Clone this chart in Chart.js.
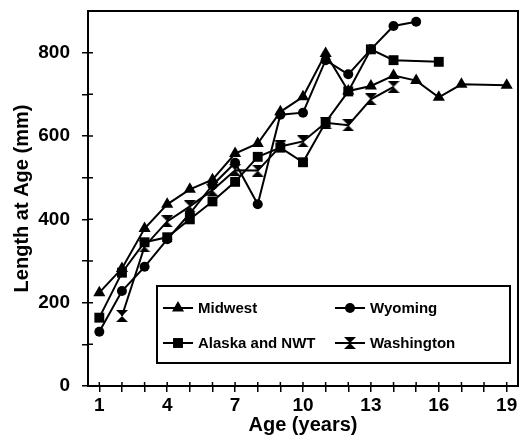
<!DOCTYPE html>
<html>
<head>
<meta charset="utf-8">
<script src="https://cdn.jsdelivr.net/npm/chart.js@4.4.0/dist/chart.umd.min.js"></script>
<style>
  html, body { margin: 0; padding: 0; background: #fff; }
  #wrap { width: 521px; height: 442px; }
</style>
</head>
<body>
<div id="wrap"><canvas id="growthChart" width="521" height="442"></canvas></div>
<script>
// length at age (mm)
const midwestAges = [1, 2, 3, 4, 5, 6, 7, 8, 9, 10, 11, 12, 13, 14, 15, 16, 17, 19];
const midwestLen = [224, 282, 378, 436, 472, 495, 558, 582, 658, 694, 798, 708, 720, 745, 733, 693, 724, 722];

const wyomingAges = [1, 2, 3, 4, 5, 6, 7, 8, 9, 10, 11, 12, 13, 14, 15];
const wyomingLen = [130, 228, 286, 352, 414, 482, 536, 436, 651, 656, 782, 748, 808, 864, 874];

const alaskaAges = [1, 2, 3, 4, 5, 6, 7, 8, 9, 10, 11, 12, 13, 14, 16];
const alaskaLen = [164, 272, 345, 357, 400, 443, 490, 550, 572, 537, 633, 707, 808, 782, 778];

const washingtonAges = [2, 3, 4, 5, 6, 7, 8, 9, 10, 11, 12, 13, 14];
const washingtonLen = [168, 335, 395, 431, 470, 518, 517, 575, 587, 632, 626, 688, 718];

const xTickValues = [1, 2, 3, 4, 5, 6, 7, 8, 9, 10, 11, 12, 13, 14, 15, 16, 17, 18, 19];
const xTickLabels = ['1', '4', '7', '10', '13', '16', '19'];
const yTickValues = [0, 100, 200, 300, 400, 500, 600, 700, 800];
const yTickLabels = ['0', '200', '400', '600', '800'];

// hourglass marker (no built-in style for it)
function makeHourglass() {
  const c = document.createElement('canvas');
  c.width = 12; c.height = 12;
  const g = c.getContext('2d');
  g.fillStyle = '#000';
  g.beginPath();
  g.moveTo(0, 0); g.lineTo(12, 0); g.lineTo(6, 6); g.closePath();
  g.moveTo(6, 6); g.lineTo(12, 12); g.lineTo(0, 12); g.closePath();
  g.fill();
  return c;
}
const hourglass = makeHourglass();

function pts(ages, vals) {
  return ages.map((a, i) => ({ x: a, y: vals[i] }));
}

const baseSet = {
  borderColor: '#000',
  backgroundColor: '#000',
  pointBackgroundColor: '#000',
  pointBorderColor: '#000',
  borderWidth: 2,
  pointBorderWidth: 0,
  tension: 0
};

const datasets = [
  Object.assign({}, baseSet, { label: 'Washington', data: pts(washingtonAges, washingtonLen), pointStyle: hourglass, pointRadius: 6 }),
  Object.assign({}, baseSet, { label: 'Alaska and NWT', data: pts(alaskaAges, alaskaLen), pointStyle: 'rect', pointRadius: 7 }),
  Object.assign({}, baseSet, { label: 'Wyoming', data: pts(wyomingAges, wyomingLen), pointStyle: 'circle', pointRadius: 5 }),
  Object.assign({}, baseSet, { label: 'Midwest', data: pts(midwestAges, midwestLen), pointStyle: 'triangle', pointRadius: 7 })
];

const FONT = "'Liberation Sans', Arial, Helvetica, sans-serif";

// frame around plot area + the short inner half of each tick mark
const framePlugin = {
  id: 'frame',
  beforeDatasetsDraw(chart) {
    const a = chart.chartArea, ctx = chart.ctx;
    ctx.save();
    ctx.strokeStyle = '#000';
    ctx.lineWidth = 2;
    ctx.strokeRect(a.left, a.top, a.right - a.left, a.bottom - a.top);
    ctx.lineWidth = 1.5;
    ctx.beginPath();
    yTickValues.forEach(v => {
      const y = chart.scales.y.getPixelForValue(v);
      ctx.moveTo(a.left, y); ctx.lineTo(a.left + 5, y);
    });
    xTickValues.forEach(v => {
      const x = chart.scales.x.getPixelForValue(v);
      ctx.moveTo(x, a.bottom); ctx.lineTo(x, a.bottom - 4);
    });
    ctx.stroke();
    ctx.restore();
  }
};

// legend box inside the plot
const legendItems = [
  { name: 'Midwest', col: 0, row: 0 },
  { name: 'Wyoming', col: 1, row: 0 },
  { name: 'Alaska and NWT', col: 0, row: 1 },
  { name: 'Washington', col: 1, row: 1 }
];
const boxLegend = {
  id: 'boxLegend',
  afterDatasetsDraw(chart) {
    const ctx = chart.ctx;
    const bx = 157, by = 286, bw = 353, bh = 77;
    ctx.save();
    ctx.fillStyle = '#fff';
    ctx.fillRect(bx, by, bw, bh);
    ctx.strokeStyle = '#000';
    ctx.lineWidth = 2;
    ctx.strokeRect(bx, by, bw, bh);
    const colX = [163, 335];
    const rowY = [308, 343];
    ctx.font = 'bold 15px ' + FONT;
    ctx.textBaseline = 'middle';
    legendItems.forEach(it => {
      const ds = chart.data.datasets.find(d => d.label === it.name);
      const x0 = colX[it.col], y = rowY[it.row];
      ctx.strokeStyle = '#000';
      ctx.lineWidth = 2;
      ctx.beginPath();
      ctx.moveTo(x0, y); ctx.lineTo(x0 + 30, y);
      ctx.stroke();
      ctx.fillStyle = '#000';
      Chart.helpers.drawPoint(ctx, { pointStyle: ds.pointStyle, radius: ds.pointRadius, rotation: 0, borderWidth: 0 }, x0 + 15, y);
      ctx.fillStyle = '#000';
      ctx.fillText(it.name, x0 + 35, y + 1);
    });
    ctx.restore();
  }
};

new Chart(document.getElementById('growthChart').getContext('2d'), {
  type: 'line',
  data: { datasets: datasets },
  options: {
    responsive: false,
    animation: false,
    layout: { autoPadding: false, padding: { left: 0, right: 3, top: 11, bottom: 0 } },
    plugins: {
      legend: { display: false },
      tooltip: { enabled: false }
    },
    scales: {
      x: {
        type: 'linear',
        min: 0.5,
        max: 19.5,
        afterBuildTicks: s => { s.ticks = xTickValues.map(v => ({ value: v })); },
        afterFit: s => { s.height = 56; s.paddingLeft = 0; s.paddingRight = 0; },
        border: { display: false },
        grid: { drawOnChartArea: false, drawTicks: true, tickLength: 6, color: '#000', lineWidth: 1.5 },
        ticks: {
          autoSkip: false,
          maxRotation: 0,
          padding: 2,
          color: '#000',
          font: { family: FONT, size: 19, weight: 'bold' },
          callback: v => (xTickLabels.includes(String(v)) ? String(v) : '')
        },
        title: {
          display: true,
          text: 'Age (years)',
          color: '#000',
          font: { family: FONT, size: 20, weight: 'bold' },
          padding: { top: 0, bottom: 5 }
        }
      },
      y: {
        min: 0,
        max: 900,
        afterBuildTicks: s => { s.ticks = yTickValues.map(v => ({ value: v })); },
        afterFit: s => { s.width = 88; s.paddingTop = 0; s.paddingBottom = 0; },
        border: { display: false },
        grid: { drawOnChartArea: false, drawTicks: true, tickLength: 6, color: '#000', lineWidth: 1.5 },
        ticks: {
          autoSkip: false,
          padding: 12,
          color: '#000',
          font: { family: FONT, size: 19, weight: 'bold' },
          callback: v => (yTickLabels.includes(String(v)) ? String(v) : '')
        },
        title: {
          display: true,
          text: 'Length at Age (mm)',
          color: '#000',
          font: { family: FONT, size: 20, weight: 'bold' },
          padding: { top: 10, bottom: 0 }
        }
      }
    }
  },
  plugins: [framePlugin, boxLegend]
});
</script>
</body>
</html>
